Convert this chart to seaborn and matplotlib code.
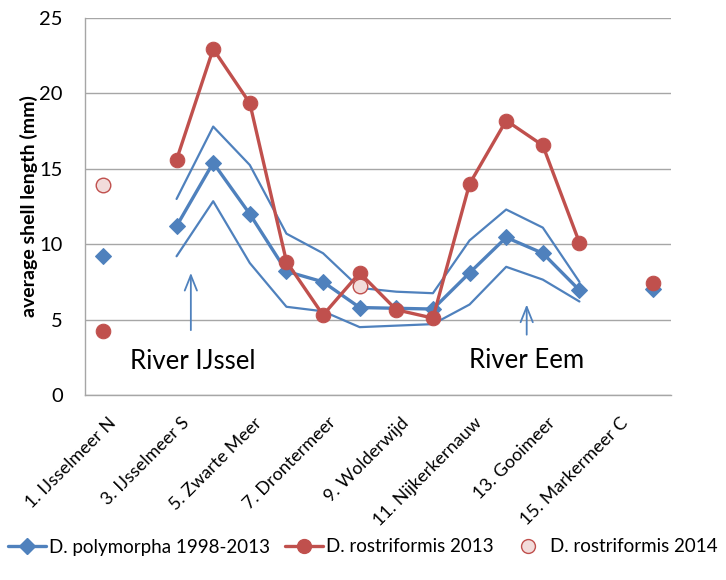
import numpy as np
import pandas as pd
import matplotlib
matplotlib.use("Agg")
import matplotlib.pyplot as plt
import seaborn as sns
from matplotlib.lines import Line2D
from matplotlib.transforms import ScaledTranslation

nan = np.nan

# Sampling sites along the lake chain (1..16), labelled on every other site
sites = list(range(1, 17))
label_positions = [1, 3, 5, 7, 9, 11, 13, 15]
tick_labels = ["1. IJsselmeer N", "3. IJsselmeer S", "5. Zwarte Meer", "7. Drontermeer",
               "9. Wolderwijd", "11. Nijkerkernauw", "13. Gooimeer", "15. Markermeer C"]

# Average shell length (mm)
polymorpha = [9.2, nan, 11.2, 15.4, 12.0, 8.2, 7.5, 5.8, 5.75, 5.7, 8.1, 10.45, 9.4, 6.95, nan, 7.0]
poly_upper = [nan, nan, 13.0, 17.8, 15.25, 10.7, 9.4, 7.1, 6.85, 6.75, 10.25, 12.3, 11.1, 7.5, nan, nan]
poly_lower = [nan, nan, 9.2, 12.85, 8.75, 5.85, 5.55, 4.5, 4.6, 4.7, 6.0, 8.5, 7.65, 6.2, nan, nan]
rostri_2013 = [4.25, nan, 15.6, 22.95, 19.35, 8.85, 5.3, 8.1, 5.65, 5.1, 14.0, 18.2, 16.55, 10.1, nan, 7.45]
rostri_2014 = [13.9, nan, nan, nan, nan, nan, nan, 7.25, nan, nan, nan, nan, nan, nan, nan, nan]

BLUE = "#4F81BD"
RED = "#C0504D"
PINK = "#F2DCDB"
GRID = "#A6A6A6"
TEXT = "#000000"

sns.set_theme(style="white")
plt.rcParams["font.family"] = ["Lato", "DejaVu Sans"]


def segments(x, y):
    """Long table with a segment id so gaps (NaN) break the line."""
    df = pd.DataFrame({"site": x, "value": y})
    df["segment"] = df["value"].isna().cumsum()
    return df.dropna()


fig = plt.figure(figsize=(7.26, 5.8), dpi=100)
ax = fig.add_axes([85 / 726, 1 - 395 / 580, (671 - 85) / 726, (395 - 18) / 580])

common = dict(x="site", y="value", units="segment", estimator=None, ax=ax, legend=False)

sns.lineplot(data=segments(sites, poly_upper), color=BLUE, lw=1.6, **common)
sns.lineplot(data=segments(sites, poly_lower), color=BLUE, lw=1.6, **common)
sns.lineplot(data=segments(sites, polymorpha), color=BLUE, lw=2.4,
             marker="D", markersize=8.5, markeredgecolor=BLUE, markerfacecolor=BLUE, **common)
sns.lineplot(data=segments(sites, rostri_2013), color=RED, lw=2.4,
             marker="o", markersize=10.5, markeredgecolor=RED, markerfacecolor=RED, **common)
df14 = segments(sites, rostri_2014)
sns.scatterplot(data=df14, x="site", y="value", ax=ax, s=110, color=PINK,
                edgecolor=RED, linewidth=1.0, legend=False, zorder=5)

# River inflow markers
arrow_kw = dict(arrowstyle="->,head_length=0.55,head_width=0.22", color=BLUE, lw=1.3,
                mutation_scale=20, shrinkA=0, shrinkB=0)
ax.annotate("", xy=(3.39, 8.1), xytext=(3.39, 4.3), arrowprops=arrow_kw)
ax.annotate("", xy=(12.56, 6.0), xytext=(12.56, 4.0), arrowprops=arrow_kw)
ax.text(3.45, 2.2, "River IJssel", fontsize=18.5, ha="center", va="center", color=TEXT)
ax.text(12.55, 2.3, "River Eem", fontsize=18.5, ha="center", va="center", color=TEXT)

# Axes styling
ax.set_xlim(0.5, 16.5)
ax.set_ylim(0, 25)
ax.set_yticks(range(0, 26, 5))
ax.set_xticks(label_positions)
ax.set_xticklabels(tick_labels, rotation=45, ha="right", va="top", rotation_mode="anchor",
                   fontsize=13, color=TEXT)
ax.set_xticks(np.arange(0.5, 17, 1), minor=True)
ax.tick_params(axis="x", which="major", length=0, pad=14)
ax.tick_params(axis="x", which="minor", length=5, width=1, color=GRID, direction="out")
ax.tick_params(axis="y", length=6, width=1, color=GRID, direction="out", pad=10,
               labelsize=14.5, labelcolor=TEXT)
ax.yaxis.grid(True, color=GRID, lw=1)
ax.xaxis.grid(False)
ax.set_axisbelow(True)
for side in ("top", "right"):
    ax.spines[side].set_visible(False)
for side in ("left", "bottom"):
    ax.spines[side].set_color(GRID)
    ax.spines[side].set_linewidth(1)
ax.set_xlabel("")
ax.set_ylabel("average shell length (mm)", fontsize=14, fontweight="bold", color=TEXT, labelpad=1)

offset = ScaledTranslation(3 / 72, 0, fig.dpi_scale_trans)
for lbl in ax.get_xticklabels():
    lbl.set_transform(lbl.get_transform() + offset)

handles = [
    Line2D([], [], color=BLUE, lw=2.4, marker="D", markersize=8, label="D. polymorpha 1998-2013"),
    Line2D([], [], color=RED, lw=2.4, marker="o", markersize=10, label="D. rostriformis 2013"),
    Line2D([], [], color="none", marker="o", markersize=10, markerfacecolor=PINK,
           markeredgecolor=RED, markeredgewidth=1.0, label="D. rostriformis 2014"),
]
fig.legend(handles=handles, loc="center", bbox_to_anchor=(0.5, 1 - 547 / 580), ncol=3,
           frameon=False, fontsize=13.5, handlelength=2.0, handletextpad=0.2,
           columnspacing=0.8, labelcolor=TEXT)

fig.savefig("out.png", dpi=100)
